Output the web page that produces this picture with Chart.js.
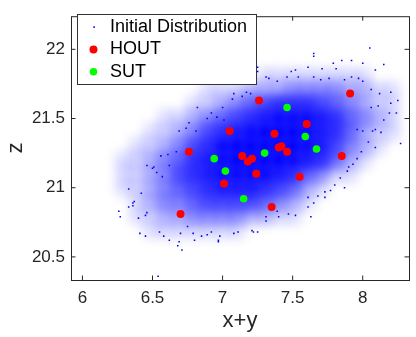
<!DOCTYPE html>
<html><head><meta charset="utf-8">
<script src="https://cdn.jsdelivr.net/npm/chart.js@4"></script>
<style>
html,body{margin:0;padding:0;background:#fff;overflow:hidden;}
#wrap{width:416px;height:337px;overflow:hidden;position:relative;background:#fff;}
canvas{display:block;}
</style></head><body>
<div id="wrap"><canvas id="c" width="420" height="337" style="width:420px;height:337px"></canvas></div>
<script>
// ---- data ----
const xTicks = [6, 6.5, 7, 7.5, 8];
const zTicks = [20.5, 21, 21.5, 22];
const legendLabels = ['Initial Distribution', 'HOUT', 'SUT'];

// density of the "Initial Distribution" cloud, estimated per 0.1 x 0.1 cell (0..9)
const gridX = [6.2,6.3,6.4,6.5,6.6,6.7,6.8,6.9,7.0,7.1,7.2,7.3,7.4,7.5,7.6,7.7,7.8,7.9,8.0,8.1,8.2,8.3];
const gridZ = [21.8,21.7,21.6,21.5,21.4,21.3,21.2,21.1,21.0,20.9,20.8,20.7];
const density = [
  "0000000000011111111000",
  "0000000111222333322110",
  "0000001123456665432110",
  "0000112345678887643210",
  "0001123567899987642110",
  "0011235689999987532100",
  "0112346789999876421000",
  "0112356788887643110000",
  "0112345677765421000000",
  "0012334555543210000000",
  "0011223333221100000000",
  "0001111111000000000000"
];

// individually visible outlying dots of the cloud
const fringeX = [8.05,7.65,7.65,7.79,7.85,7.92,8.00,8.09,8.15,7.25,7.49,7.52,7.61,7.71,7.81,7.31,7.33,7.39,7.46,7.54,7.65,7.70,7.76,7.87,7.92,7.97,8.00,8.06,8.12,8.20,8.25,8.20,8.19,8.24,8.11,8.06,8.27,8.15,8.09,8.07,8.13,8.00,7.96,8.04,8.09,7.99,7.96,7.93,7.90,7.89,7.84,7.80,7.87,7.77,7.73,7.73,7.68,7.61,7.61,7.65,7.52,7.47,7.63,7.40,7.31,7.25,7.31,7.39,6.69,6.74,6.81,6.56,6.61,6.46,6.50,6.53,6.33,6.42,6.37,6.57,6.62,6.67,6.82,6.76,6.92,7.00,7.07,7.08,7.14,7.17,7.20,6.89,6.96,7.01,6.26,6.27,6.33,6.36,6.40,6.45,6.46,6.41,6.45,6.55,6.58,6.62,6.69,6.68,6.71,6.80,6.97,6.98,6.92,6.89,6.85,6.79,6.70,6.54,7.08,7.11,7.21,7.22,6.75,5.92,6.36,6.51,6.97,7.25];
const fringeZ = [22.01,21.97,21.95,21.90,21.92,21.92,21.90,21.85,21.89,21.87,21.84,21.85,21.87,21.86,21.86,21.80,21.79,21.77,21.80,21.80,21.80,21.78,21.79,21.78,21.80,21.79,21.77,21.71,21.68,21.69,21.63,21.61,21.54,21.54,21.59,21.58,21.32,21.49,21.42,21.41,21.40,21.41,21.42,21.33,21.29,21.26,21.21,21.17,21.15,21.12,21.07,21.02,21.00,20.98,20.97,20.93,20.94,20.93,20.86,20.89,20.80,20.81,20.79,20.79,20.76,20.68,20.79,20.83,21.41,21.43,21.41,21.23,21.24,21.16,21.14,21.11,20.99,20.96,20.90,21.08,21.16,21.26,21.58,21.47,21.54,21.58,21.64,21.68,21.66,21.69,21.68,21.50,21.51,21.49,20.83,20.79,20.86,20.87,20.78,20.80,20.82,20.67,20.65,20.68,20.65,20.62,20.61,20.58,20.55,20.62,20.61,20.65,20.68,20.66,20.65,20.67,20.67,20.36,20.67,20.68,20.69,20.68,20.72,20.59,20.89,21.15,20.62,21.84];

const houtX = [7.91,7.26,7.60,7.05,7.37,6.76,7.40,7.42,7.46,7.14,7.21,7.18,7.85,7.24,7.01,7.55,7.35,6.70];
const houtZ = [21.68,21.63,21.46,21.41,21.39,21.26,21.29,21.30,21.26,21.23,21.21,21.19,21.23,21.10,21.03,21.08,20.86,20.81];
const sutX = [7.46,7.59,7.67,7.30,6.94,7.02,7.15];
const sutZ = [21.58,21.37,21.28,21.25,21.21,21.12,20.92];

// ---- build chart ----
const AX = '#262626';
const FONT = "'Liberation Sans', Arial, Helvetica, sans-serif";
const cellPts = [], cellLv = [];
gridZ.forEach((z, r) => {
  for (let c = 0; c < gridX.length; c++) {
    const L = +density[r][c];
    if (L > 0) { cellPts.push({x: gridX[c], y: z}); cellLv.push(L); }
  }
});
const zip = (a, b) => a.map((v, i) => ({x: v, y: b[i]}));
const levelAlpha = L => Math.min(1, L / 9 * 1.05);

const boxPlugin = {
  id: 'matlabBox',
  beforeDatasetDraw(chart, args) {
    if (args.index === 0) { chart.ctx.save(); chart.ctx.filter = 'blur(5px)'; }
  },
  afterDatasetDraw(chart, args) {
    if (args.index === 0) { chart.ctx.restore(); }
  },
  afterDatasetsDraw(chart) {
    const {ctx, chartArea: a, scales: {x, y}} = chart;
    ctx.save();
    ctx.strokeStyle = AX; ctx.lineWidth = 1;
    ctx.strokeRect(a.left + 0.5, a.top + 0.5, a.right - a.left, a.bottom - a.top);
    const tl = 4.5;
    ctx.beginPath();
    xTicks.forEach(t => {
      const p = x.getPixelForValue(t);
      ctx.moveTo(p, a.bottom); ctx.lineTo(p, a.bottom - tl);
      ctx.moveTo(p, a.top); ctx.lineTo(p, a.top + tl);
    });
    zTicks.forEach(t => {
      const p = y.getPixelForValue(t);
      ctx.moveTo(a.left, p); ctx.lineTo(a.left + tl, p);
      ctx.moveTo(a.right, p); ctx.lineTo(a.right - tl, p);
    });
    ctx.stroke();
    ctx.restore();
  },
  afterDraw(chart) {
    const ctx = chart.ctx;
    ctx.save();
    ctx.fillStyle = '#fff';
    ctx.fillRect(77.5, 14.5, 179, 70);
    ctx.strokeStyle = '#333'; ctx.lineWidth = 1;
    ctx.strokeRect(77.5, 14.5, 179, 70);
    const rows = [27.5, 49.5, 71.7];
    const ds = chart.data.datasets;
    ctx.fillStyle = ds[1].backgroundColor;
    ctx.fillRect(93.3, 26.3, 1.6, 1.6);
    ctx.fillStyle = ds[2].backgroundColor;
    ctx.beginPath(); ctx.arc(93.5, rows[1], 4, 0, Math.PI * 2); ctx.fill();
    ctx.fillStyle = ds[3].backgroundColor;
    ctx.beginPath(); ctx.arc(93.5, rows[2], 3.8, 0, Math.PI * 2); ctx.fill();
    ctx.fillStyle = '#000';
    ctx.font = '18px ' + FONT;
    ctx.textBaseline = 'middle'; ctx.textAlign = 'left';
    legendLabels.forEach((t, i) => ctx.fillText(t, 110, rows[i]));
    ctx.restore();
  }
};

new Chart(document.getElementById('c'), {
  type: 'scatter',
  data: {
    datasets: [
      { label: 'density', data: cellPts, pointRadius: 11, pointHoverRadius: 11, borderWidth: 0,
        backgroundColor: ctx => 'rgba(0,0,255,' + levelAlpha(cellLv[ctx.dataIndex]).toFixed(3) + ')', order: 4 },
      { label: legendLabels[0], data: zip(fringeX, fringeZ), pointStyle: 'rect', pointRadius: 1.1, pointHoverRadius: 1.1,
        borderWidth: 0, backgroundColor: '#0000ff', order: 3 },
      { label: legendLabels[1], data: zip(houtX, houtZ), pointRadius: 4, pointHoverRadius: 4, borderWidth: 0,
        backgroundColor: '#ff0000', order: 2 },
      { label: legendLabels[2], data: zip(sutX, sutZ), pointRadius: 3.8, pointHoverRadius: 3.8, borderWidth: 0,
        backgroundColor: '#00ff00', order: 1 }
    ]
  },
  options: {
    responsive: false, animation: false, events: [],
    layout: { padding: { left: 0, top: 7, right: 3, bottom: 0 } },
    plugins: { legend: { display: false }, tooltip: { enabled: false } },
    scales: {
      x: {
        type: 'linear', min: 5.9185, max: 8.33,
        afterBuildTicks: s => { s.ticks = xTicks.map(v => ({value: v})); },
        afterFit: s => { s.height = 57; },
        grid: { display: false, drawTicks: false }, border: { display: false },
        ticks: { color: AX, font: { size: 17, family: FONT }, padding: 8, maxRotation: 0, autoSkip: false,
                 callback: v => String(v) },
        title: { display: true, text: 'x+y', color: AX, font: { size: 22, family: FONT }, padding: { top: 0, bottom: 3 } }
      },
      y: {
        type: 'linear', min: 20.333, max: 22.2395,
        afterBuildTicks: s => { s.ticks = zTicks.map(v => ({value: v})); },
        afterFit: s => { s.width = 71; },
        grid: { display: false, drawTicks: false }, border: { display: false },
        ticks: { color: AX, font: { size: 17, family: FONT }, padding: 6, autoSkip: false,
                 callback: v => String(v) },
        title: { display: true, text: 'z', color: AX, font: { size: 22, family: FONT }, padding: { top: 3, bottom: 0 } }
      }
    }
  },
  plugins: [boxPlugin]
});
</script>
</body></html>
